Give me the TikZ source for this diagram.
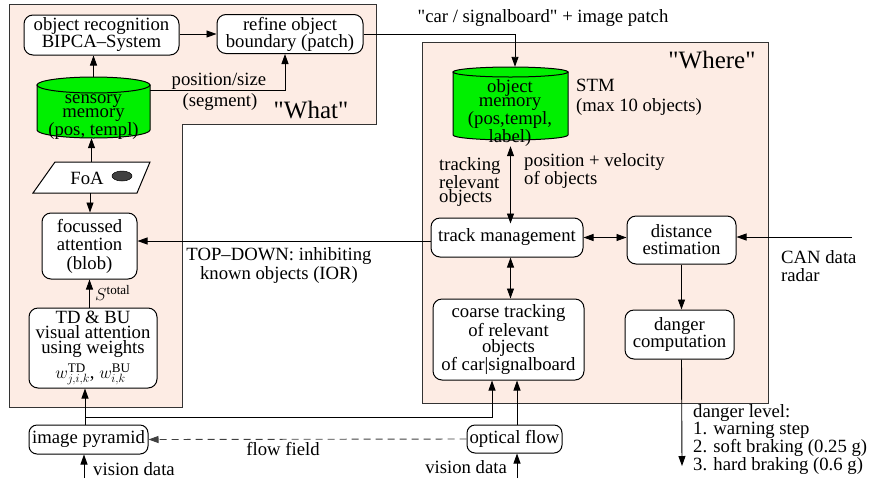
\documentclass[tikz,border=0pt]{standalone}
\usepackage{fontspec}
\setmainfont{Liberation Serif}[Ligatures=TeXOff]
\usetikzlibrary{arrows.meta}
\definecolor{panelc}{RGB}{253,236,228}
\definecolor{memgreen}{RGB}{0,240,0}
\definecolor{foadot}{RGB}{64,64,64}
\newcommand\myfs[1]{\fontsize{18.7}{#1}\selectfont}
\begin{document}
\begin{tikzpicture}[x=1pt,y=-1pt,
  every node/.style={font=\myfs{16}},
  box/.style={draw=black, line width=1pt, rounded corners=9pt, fill=white, align=center, inner sep=0pt},
  arr/.style={line width=0.9pt, -{Triangle[length=10pt,width=7pt]}},
  darr/.style={line width=0.9pt, {Triangle[length=10pt,width=7pt]}-{Triangle[length=10pt,width=7pt]}},
  txt/.style={inner sep=0pt, align=left},
  panel/.style={fill=panelc, draw=black!80, line width=1pt},
  cylfill/.style={fill=memgreen, draw=black, line width=1pt},
  ghost/.style={inner sep=0pt, draw=none}
]
\useasboundingbox (0,0) rectangle (869,480);

% panels
\path[panel] (9,4) -- (376,4) -- (376,124) -- (182,124) -- (182,407) -- (9,407) -- cycle;
\path[panel] (422,42) rectangle (768,403);

\node[txt, font=\fontsize{25}{25}\selectfont] (what) at (311,110) {"What"};
\node[txt, font=\fontsize{25}{25}\selectfont] (where) at (712,60) {"Where"};

% left column
\node[box, minimum width=155pt, minimum height=40pt, font=\myfs{17}] (objrec) at (101.5,35) {object recognition\\ BIPCA–System};
\node[box, minimum width=146pt, minimum height=39pt, font=\myfs{17}] (refine) at (290,34) {refine object\\boundary (patch)};

% sensory memory cylinder
\node[ghost, minimum width=113pt, minimum height=61pt] (smem) at (93.5,107.5) {};
\filldraw[cylfill] (37,85) -- (37,130) arc[start angle=180,end angle=0,x radius=56.5,y radius=8] -- (150,85) -- cycle;
\filldraw[cylfill] (93.5,85) ellipse[x radius=56.5,y radius=8];
\node[txt, align=center, font=\myfs{14.5}] (smemtxt) at (93.5,117) {sensory\\memory\\(pos, templ)};

% FoA
\node[ghost, minimum width=117pt, minimum height=31pt] (foa) at (91.5,177.5) {};
\draw[line width=1pt, fill=white] (55,162) -- (150,162) -- (137,193) -- (33,193) -- cycle;
\node[txt] (foatxt) at (87,178) {FoA};
\fill[foadot, draw=black, line width=0.5pt] (122,176) ellipse[x radius=10,y radius=5];

\node[box, minimum width=95pt, minimum height=66pt, font=\myfs{18.5}] (focus) at (89.5,246) {focussed\\attention\\(blob)};
\node[box, minimum width=128pt, minimum height=80pt, font=\myfs{15}] (tdbu) at (93,348) {\rule{0pt}{9pt}TD \& BU\\visual attention\\using weights\\[5pt]$w^{\mathrm{TD}}_{j,i,k}$, $w^{\mathrm{BU}}_{i,k}$};
\node[box, rounded corners=8pt, minimum width=119pt, minimum height=29pt] (pyr) at (88.5,439.5) {image pyramid};

% right column
\node[ghost, minimum width=115pt, minimum height=73pt] (omem) at (510.5,103.5) {};
\filldraw[cylfill] (453,72) -- (453,135) arc[start angle=180,end angle=0,x radius=57.5,y radius=5] -- (568,72) -- cycle;
\filldraw[cylfill] (510.5,72) ellipse[x radius=57.5,y radius=5];
\node[txt, align=center, font=\myfs{14.3}] (omemtxt) at (510,113) {object\\memory\\(pos,templ,\\label)};
\node[txt, anchor=west, font=\myfs{20}] (stm) at (576,97) {STM\\(max 10 objects)};

\node[box, minimum width=152pt, minimum height=39pt] (track) at (507,237.5) {track management};
\node[box, minimum width=109pt, minimum height=48pt, font=\myfs{17}] (dist) at (681.5,240) {distance\\estimation};
\node[box, minimum width=151pt, minimum height=81pt, font=\myfs{16}] (coarse) at (508.5,339.5) {coarse tracking\\of relevant\\objects\\of car|signalboard};
\node[box, minimum width=109pt, minimum height=49pt, font=\myfs{16}] (danger) at (679.5,334.5) {danger\\computation};
\node[box, rounded corners=8pt, minimum width=95pt, minimum height=28pt] (oflow) at (514.5,439) {optical flow};

% coordinates
\coordinate (br) at (85,417);
\coordinate (vd1) at (84,478);
\coordinate (vd2) at (517,478);
\coordinate (can) at (852,237);
\coordinate (dout) at (682,466);

% connectors left
\draw[arr] (objrec.east |- refine.west) -- (refine.west);
\draw[arr] (smem.north) -- (smem.north |- objrec.south);
\draw[arr] ([yshift=17pt]smem.east) -| ([xshift=-5pt]refine.south);
\node[txt] (possize) at (219,81) {position/size};
\node[txt] (segment) at (220,102) {(segment)};
\draw[arr] (foa.north) -- (foa.north |- smem.south);
\draw[arr] ([xshift=-1.5pt]foa.south) -- ([xshift=-1.5pt]foa.south |- focus.north);
\draw[arr] (tdbu.north -| focus.south) -- (focus.south);
\node[txt, anchor=west] (stot) at (95,293) {$S^{\mathrm{total}}$};
\draw[arr] ([xshift=-3.5pt]pyr.north) -- ([xshift=-3.5pt]pyr.north |- tdbu.south);
\draw[arr] (br) -| ([xshift=-16.5pt]coarse.south);
\draw[arr] (vd1) -- (vd1 |- pyr.south);
\node[txt, anchor=west] (vdl) at (93,469) {vision data};

\draw[arr, dash pattern=on 7pt off 5pt, draw=black!75] (oflow.west) -- (pyr.east);
\node[txt] (ffield) at (283,449) {flow field};

\draw[arr] ([yshift=-3.5pt]track.west) -- ([yshift=-3.5pt]track.west -| focus.east);
\node[txt, align=center, font=\myfs{19}] (topdown) at (279,265) {TOP–DOWN: inhibiting\\known objects (IOR)};

% connectors right
\draw[arr] (refine.east) -| ([xshift=4.5pt]omem.north);
\node[txt] (carlbl) at (543,18) {"car / signalboard" + image patch};
\draw[darr] ([yshift=-6pt]omem.south) -- ([yshift=-6pt]omem.south |- track.north);
\node[txt, anchor=west, font=\myfs{14.5}] (trackrel) at (439,182) {tracking\\relevant\\objects};
\node[txt, anchor=west, font=\myfs{16}] (posvel) at (524,171) {position + velocity\\of objects};
\draw[darr] (track.east) -- (track.east -| dist.west);
\draw[arr] (can) -- (can -| dist.east);
\node[txt, anchor=west, font=\myfs{18}] (canlbl) at (781,266) {CAN data\\radar};
\draw[darr] ([xshift=3.5pt]track.south) -- ([xshift=3.5pt]track.south |- coarse.north);
\draw[arr] (dist.south) -- (dist.south |- danger.north);
\draw[arr] (danger.south -| dist.south) -- (dout);
\node[txt, anchor=north west, font=\myfs{17}] (dlevel) at (693,404) {danger level:\\1. warning step\\2. soft braking (0.25 g)\\3. hard braking (0.6 g)};
\draw[arr] ([xshift=2.5pt]oflow.north) -- ([xshift=2.5pt]oflow.north |- coarse.south);
\draw[arr] (vd2) -- (vd2 |- oflow.south);
\node[txt, anchor=east] (vdr) at (507,467) {vision data};
\end{tikzpicture}
\end{document}
